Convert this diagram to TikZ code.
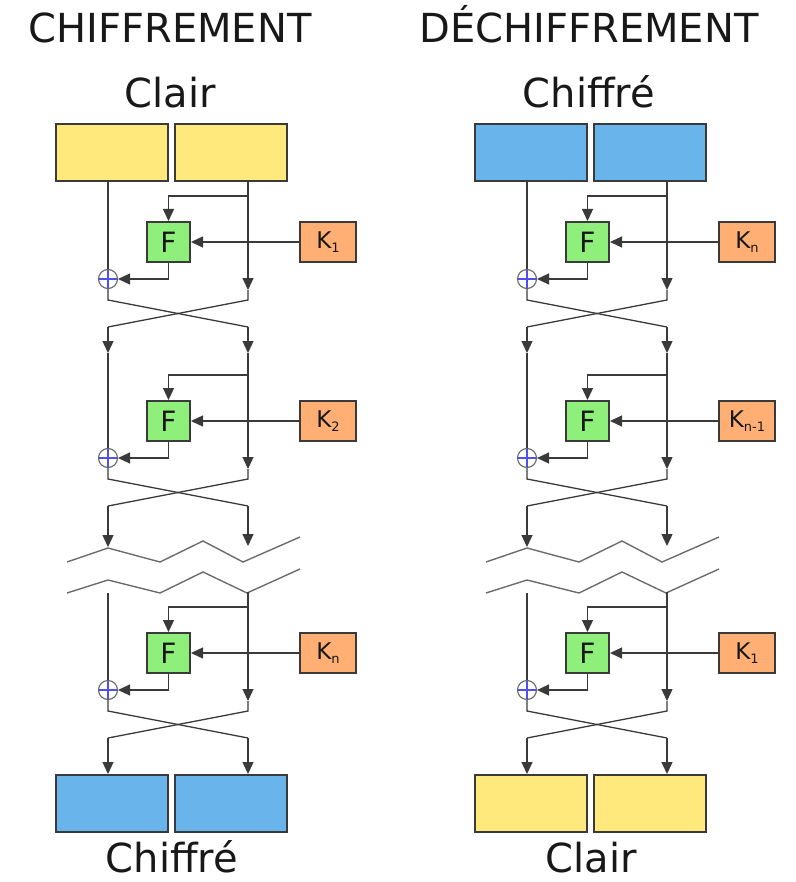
\documentclass[tikz,border=0pt]{standalone}
\usepackage{fontspec}
\setmainfont{DejaVu Sans}
\usetikzlibrary{positioning,calc,arrows.meta}
\definecolor{clairyel}{RGB}{255,233,124}
\definecolor{chifblue}{RGB}{106,180,236}
\definecolor{fgreen}{RGB}{142,240,122}
\definecolor{keyorange}{RGB}{255,174,116}
\definecolor{linegray}{RGB}{58,58,58}
\definecolor{textgray}{RGB}{24,24,24}
\definecolor{xorblue}{RGB}{80,80,240}
\newcommand{\keytxt}[1]{K\raisebox{-4pt}{\fontsize{13}{13}\selectfont #1}}

\begin{document}
\begin{tikzpicture}[x=1pt,y=-1pt,>={Triangle[length=12pt,width=11pt]},line width=1.3pt,color=linegray,text=textgray]
  \tikzstyle{block}=[draw=linegray,line width=2pt,minimum width=112pt,minimum height=57pt,inner sep=0pt]
  \tikzstyle{fbox}=[draw=linegray,fill=fgreen,line width=2pt,minimum width=43pt,minimum height=40pt,inner sep=0pt,font=\fontsize{28}{28}\selectfont]
  \tikzstyle{keybox}=[draw=linegray,fill=keyorange,line width=2pt,minimum width=56pt,minimum height=40pt,inner sep=0pt,font=\fontsize{23}{23}\selectfont]
  \tikzstyle{xor}=[circle,draw=gray!80!black,line width=1.1pt,minimum size=19pt,inner sep=0pt,
    path picture={\draw[xorblue,line width=1.1pt] (path picture bounding box.north) -- (path picture bounding box.south)
      (path picture bounding box.west) -- (path picture bounding box.east);}]
  \tikzstyle{biglabel}=[anchor=base,inner sep=0pt,font=\fontsize{40}{40}\selectfont]
  \useasboundingbox (0,0) rectangle (795,882);

  \foreach \col/\dx/\topc/\botc/\tname/\tlab/\blab/\ka/\kb/\kc in
      {L/0/clairyel/chifblue/CHIFFREMENT/Clair/Chiffré/1/2/n,
       R/419/chifblue/clairyel/DÉCHIFFREMENT/Chiffré/Clair/n/n-1/1}{
  \begin{scope}[xshift=\dx]
    % titles and blocks
    \node[biglabel] (title\col) at (170,43) {\tname};
    \node[biglabel] (inlab\col) at (170,108) {\tlab};
    \node[block,fill=\topc] (topL\col) at (112,152.5) {};
    \node[block,fill=\topc] (topR\col) at (231,152.5) {};
    \node[block,fill=\botc] (botL\col) at (112,803.5) {};
    \node[block,fill=\botc] (botR\col) at (231,803.5) {};
    \node[biglabel] (outlab\col) at (172,872) {\blab};

    % the three rounds
    \foreach \r/\t/\kk in {1/196/\ka,2/375/\kb,3/607/\kc}{
      \node[fbox] (F\col\r) at (168.5,\t+46) {F};
      \node[keybox] (K\col\r) at (328,\t+46) {\keytxt{\kk}};
      \node[xor] (X\col\r) at (108,\t+83) {};
      \coordinate (br\col\r) at (248,\t);
      \coordinate (ra\col\r) at (248,\t+94);
      \coordinate (lc\col\r) at (108,\t+104);
      \coordinate (rc\col\r) at (248,\t+104);
      \coordinate (lo\col\r) at (108,\t+131);
      \coordinate (ro\col\r) at (248,\t+131);
      \draw[->] (br\col\r) -| (F\col\r.north);
      \draw[->] (K\col\r) -- (F\col\r);
      \draw[->] (F\col\r) |- (X\col\r);
      \draw (X\col\r) -- (lc\col\r) -- (ro\col\r);
      \draw (ra\col\r) -- (rc\col\r) -- (lo\col\r);
    }

    % links between rounds
    \draw (topL\col.south -| X\col1) -- (X\col1);
    \draw[->] (topR\col.south -| ra\col1) -- (ra\col1);
    \coordinate (ma\col) at (108,353);
    \coordinate (mb\col) at (248,353);
    \draw[->] (lo\col1) -- (ma\col);
    \draw (ma\col) -- (X\col2);
    \draw[->] (ro\col1) -- (mb\col);
    \draw[->] (mb\col) -- (ra\col2);
    \coordinate (za\col) at (108,547);
    \coordinate (zb\col) at (248,546);
    \draw[->] (lo\col2) -- (za\col);
    \draw[->] (ro\col2) -- (zb\col);

    % break marks
    \draw[line width=1.4pt,color=gray!85!black] (67,562) -- (108,548) -- (160,562) -- (203,541) -- (243,562) -- (300,537);
    \draw[line width=1.4pt,color=gray!85!black] (67,593) -- (108,580) -- (160,593) -- (203,572) -- (247,593) -- (300,569);
    \coordinate (zc\col) at (108,593);
    \coordinate (zd\col) at (248,592);
    \draw (zc\col) -- (X\col3);
    \draw[->] (zd\col) -- (ra\col3);
    \draw[->] (lo\col3) -- (botL\col.north -| lo\col3);
    \draw[->] (ro\col3) -- (botR\col.north -| ro\col3);
  \end{scope}
  }
\end{tikzpicture}
\end{document}
